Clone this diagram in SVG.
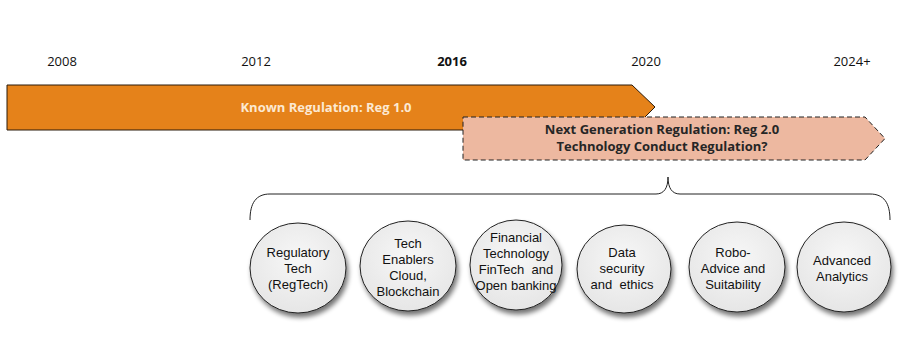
<svg xmlns="http://www.w3.org/2000/svg" width="909" height="361" viewBox="0 0 909 361">
<defs>
<filter id="sh" x="-30%" y="-30%" width="160%" height="160%">
<feGaussianBlur in="SourceAlpha" stdDeviation="2.5"/>
<feOffset dx="2" dy="4" result="b"/>
<feComponentTransfer><feFuncA type="linear" slope="0.55"/></feComponentTransfer>
<feMerge><feMergeNode/><feMergeNode in="SourceGraphic"/></feMerge>
</filter>
<radialGradient id="cg" cx="50%" cy="40%" r="60%">
<stop offset="0" stop-color="#f7f7f7"/>
<stop offset="1" stop-color="#e6e6e6"/>
</radialGradient>
</defs>
<style>
.yr{font-family:"Open Sans","Liberation Sans",sans-serif;font-size:13px;fill:#111;text-anchor:middle}
.bl{font-family:"Open Sans","Liberation Sans",sans-serif;font-size:13px;font-weight:bold;text-anchor:middle}
.ct{font-family:"Liberation Sans",Arial,sans-serif;font-size:13px;fill:#111;text-anchor:middle;white-space:pre}
.c{fill:url(#cg);stroke:#222;stroke-width:1;filter:url(#sh)}
</style>
<rect width="909" height="361" fill="#fff"/>
<g id="years">
<text class="yr" x="62" y="66">2008</text>
<text class="yr" x="256" y="66">2012</text>
<text class="yr" x="452" y="66" font-weight="bold">2016</text>
<text class="yr" x="646" y="66">2020</text>
<text class="yr" x="852" y="66">2024+</text>
</g>
<g id="reg1">
<path d="M7,85 H632 L655,107 L632,130 H7 Z" fill="#E5821A" stroke="#2a1a0a" stroke-width="1"/>
<text class="bl" x="326" y="112" fill="#FCE9D2">Known Regulation: Reg 1.0</text>
</g>
<g id="reg2">
<path d="M463,117 H865 L885,138.5 L865,160 H463 Z" fill="#EDB8A0" stroke="#222" stroke-width="1" stroke-dasharray="5,3"/>
<text class="bl" x="662" y="134" fill="#262626">Next Generation Regulation: Reg 2.0</text>
<text class="bl" x="662" y="151" fill="#262626">Technology Conduct Regulation?</text>
</g>
<g id="connectors">
<path d="M250,220 C250,203 256,194 270,194 H656 C664,194 668,188 668,177 C668,188 672,194 680,194 H870 C884,194 890,203 890,220" fill="none" stroke="#222" stroke-width="1"/>
</g>
<g id="n1"><ellipse class="c" cx="298" cy="268" rx="48" ry="45"/>
<text class="ct" x="298" y="257">Regulatory</text><text class="ct" x="298" y="273">Tech</text><text class="ct" x="298" y="289">(RegTech)</text></g>
<g id="n2"><ellipse class="c" cx="408" cy="266" rx="48" ry="45"/>
<text class="ct" x="408" y="248">Tech</text><text class="ct" x="408" y="264">Enablers</text><text class="ct" x="408" y="280">Cloud,</text><text class="ct" x="408" y="296">Blockchain</text></g>
<g id="n3"><ellipse class="c" cx="516" cy="265" rx="46" ry="45"/>
<text class="ct" x="516" y="242">Financial</text><text class="ct" x="516" y="258">Technology</text><text class="ct" x="516" y="274">FinTech  and</text><text class="ct" x="516" y="290">Open banking</text></g>
<g id="n4"><ellipse class="c" cx="624" cy="269" rx="47" ry="44"/>
<text class="ct" x="622" y="257">Data</text><text class="ct" x="622" y="273">security</text><text class="ct" x="622" y="289">and  ethics</text></g>
<g id="n5"><ellipse class="c" cx="737" cy="267" rx="48" ry="45"/>
<text class="ct" x="733" y="257">Robo-</text><text class="ct" x="733" y="273">Advice and</text><text class="ct" x="733" y="289">Suitability</text></g>
<g id="n6"><ellipse class="c" cx="844" cy="267" rx="47" ry="45"/>
<text class="ct" x="842" y="265">Advanced</text><text class="ct" x="842" y="281">Analytics</text></g>
</svg>
